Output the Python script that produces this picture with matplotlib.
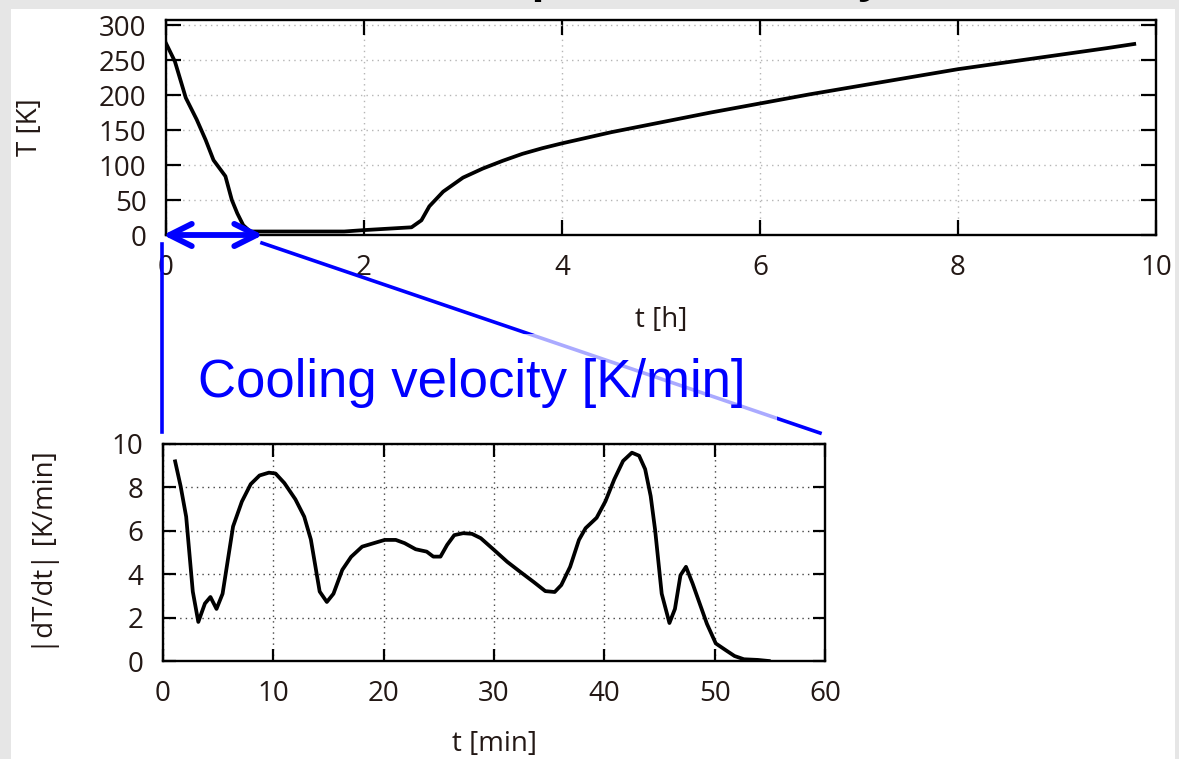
import matplotlib
matplotlib.use("Agg")
import matplotlib.pyplot as plt
from matplotlib.lines import Line2D
from matplotlib.patches import Rectangle

# ---------------- data ----------------
hours = [0, 0.09, 0.2, 0.31, 0.4, 0.48, 0.6, 0.665, 0.72, 0.78, 0.85, 1.2, 1.8,
         2.0, 2.48, 2.58, 2.66, 2.8, 3.0, 3.2, 3.4, 3.6, 3.8, 4.0, 4.5, 5.0,
         5.5, 6.0, 6.5, 7.0, 7.5, 8.0, 8.5, 9.0, 9.5, 9.78]
temp_K = [274, 248, 196, 165, 136, 107, 84, 50, 31, 14, 5, 5, 5,
          7, 11, 21, 41, 62, 82, 95, 106, 116, 124, 131, 147, 161,
          175, 188, 201, 213, 225, 237, 247, 257, 267, 273]

minutes = [1.1, 1.6, 2.1, 2.7, 3.2, 3.8, 4.3, 4.85, 5.4, 6.35, 7.15, 7.95, 8.75,
           9.6, 10.2, 11.0, 12.0, 12.8, 13.4, 14.2, 14.85, 15.45, 16.25, 17.05,
           18.05, 19.1, 20.1, 21.1, 21.9, 22.9, 23.9, 24.5, 25.15, 25.75, 26.4,
           27.2, 28.0, 28.8, 30.0, 31.2, 32.4, 33.6, 34.65, 35.5, 36.1, 36.9,
           37.7, 38.3, 39.3, 40.1, 40.9, 41.7, 42.5, 43.15, 43.7, 44.2, 44.6,
           45.2, 45.9, 46.4, 46.9, 47.4, 48.0, 48.6, 49.3, 50.1, 51.0, 51.8,
           52.65, 53.9, 54.9]
rate_K_min = [9.2, 8.05, 6.65, 3.2, 1.8, 2.65, 2.95, 2.4, 3.1, 6.2, 7.35, 8.15, 8.55,
              8.68, 8.64, 8.2, 7.45, 6.65, 5.6, 3.2, 2.72, 3.1, 4.2, 4.8,
              5.27, 5.43, 5.58, 5.58, 5.43, 5.15, 5.04, 4.81, 4.81, 5.35, 5.8,
              5.89, 5.86, 5.66, 5.12, 4.57, 4.1, 3.64, 3.22, 3.18, 3.5, 4.34,
              5.58, 6.12, 6.6, 7.36, 8.37, 9.22, 9.6, 9.46, 8.84, 7.6, 6.05,
              3.1, 1.75, 2.4, 3.95, 4.34, 3.57, 2.71, 1.71, 0.81, 0.5, 0.23,
              0.08, 0.05, 0.0]

top_xticks = [0, 2, 4, 6, 8, 10]
top_yticks = [0, 50, 100, 150, 200, 250, 300]
bot_xticks = [0, 10, 20, 30, 40, 50, 60]
bot_yticks = [0, 2, 4, 6, 8, 10]

# ---------------- figure ----------------
W, H = 1179, 759
plt.rcParams['font.family'] = ['Open Sans', 'DejaVu Sans']
TXT = '#231815'
fig = plt.figure(figsize=(W / 100, H / 100), dpi=100, facecolor='#e6e6e6')


def fx(px):
    return px / W


def fy(py):
    return 1 - py / H


# white slide panel
fig.add_artist(Rectangle((fx(11), 0), fx(1175) - fx(11), fy(9), transform=fig.transFigure,
                         facecolor='white', edgecolor='none', zorder=0))
# cut-off title (only descenders visible)
fig.text(fx(662), fy(-8), 'Temperature history', ha='center', va='baseline',
         fontsize=31, fontweight='bold', color='black')


def style_axes(ax, ticklen, gridcolor):
    for s in ax.spines.values():
        s.set_linewidth(1.7)
        s.set_color('black')
    ax.tick_params(direction='in', top=True, right=True, length=ticklen, width=1.6,
                   labelsize=20, labelcolor=TXT, pad=14)
    ax.grid(True, color=gridcolor, linestyle=(0, (1, 3)), linewidth=1.0)
    ax.set_axisbelow(True)


# ---- top axes ----
ax1 = fig.add_axes([fx(166), fy(235), fx(1156) - fx(166), fy(19.5) - fy(235)])
ax1.plot(hours, temp_K, color='black', lw=2.7, zorder=3)
ax1.set_xlim(0, 10)
ax1.set_ylim(0, 308)
ax1.set_xticks(top_xticks)
ax1.set_yticks(top_yticks)
style_axes(ax1, 11, '#b5b5b5')
ax1.tick_params(axis='x', pad=14)
ax1.set_xlabel('t [h]', fontsize=20, color=TXT, va='center')
ax1.xaxis.set_label_coords(0.5, (235 - 320) / 215.5)
ax1.set_ylabel('T [K]', fontsize=20, color=TXT, va='center', ha='center')
ax1.yaxis.set_label_coords((30 - 166) / 990, 0.5)

ax1.annotate('', xy=(-0.03, 0), xytext=(0.98, 0), annotation_clip=False,
             arrowprops=dict(arrowstyle='<->,head_length=0.8,head_width=0.4',
                             color='#0000ff', lw=4.2, mutation_scale=20,
                             shrinkA=0, shrinkB=0), zorder=5)

# ---- bottom axes ----
ax2 = fig.add_axes([fx(163), fy(661), fx(825) - fx(163), fy(444) - fy(661)])
ax2.plot(minutes, rate_K_min, color='black', lw=2.7, zorder=3)
ax2.set_xlim(0, 60)
ax2.set_ylim(0, 10)
ax2.set_xticks(bot_xticks)
ax2.set_yticks(bot_yticks)
style_axes(ax2, 9, '#444444')
ax2.tick_params(axis='x', pad=14)
ax2.set_xlabel('t [min]', fontsize=20, color=TXT, va='center')
ax2.xaxis.set_label_coords(0.5, (661 - 744) / 217)
ax2.set_ylabel('|dT/dt| [K/min]', fontsize=20, color=TXT, va='center', ha='center')
ax2.yaxis.set_label_coords((46 - 163) / 662, 0.5)

# ---- blue zoom annotation ----
blue = '#0000ff'
fig.add_artist(Line2D([fx(162), fx(162)], [fy(244), fy(432)], transform=fig.transFigure,
                      color=blue, lw=2.6, zorder=4))
fig.add_artist(Line2D([fx(262), fx(820)], [fy(243), fy(433)], transform=fig.transFigure,
                      color=blue, lw=2.6, zorder=4))
fig.add_artist(Rectangle((fx(190), fy(440)), fx(777) - fx(190), fy(334) - fy(440),
                         transform=fig.transFigure, facecolor='white', alpha=0.67,
                         edgecolor='none', zorder=5))
fig.text(fx(198), fy(397), 'Cooling velocity [K/min]', ha='left', va='baseline',
         fontsize=38, color=blue, family=['Liberation Sans', 'DejaVu Sans'], zorder=6)

fig.savefig('out.png', dpi=100, facecolor=fig.get_facecolor())
